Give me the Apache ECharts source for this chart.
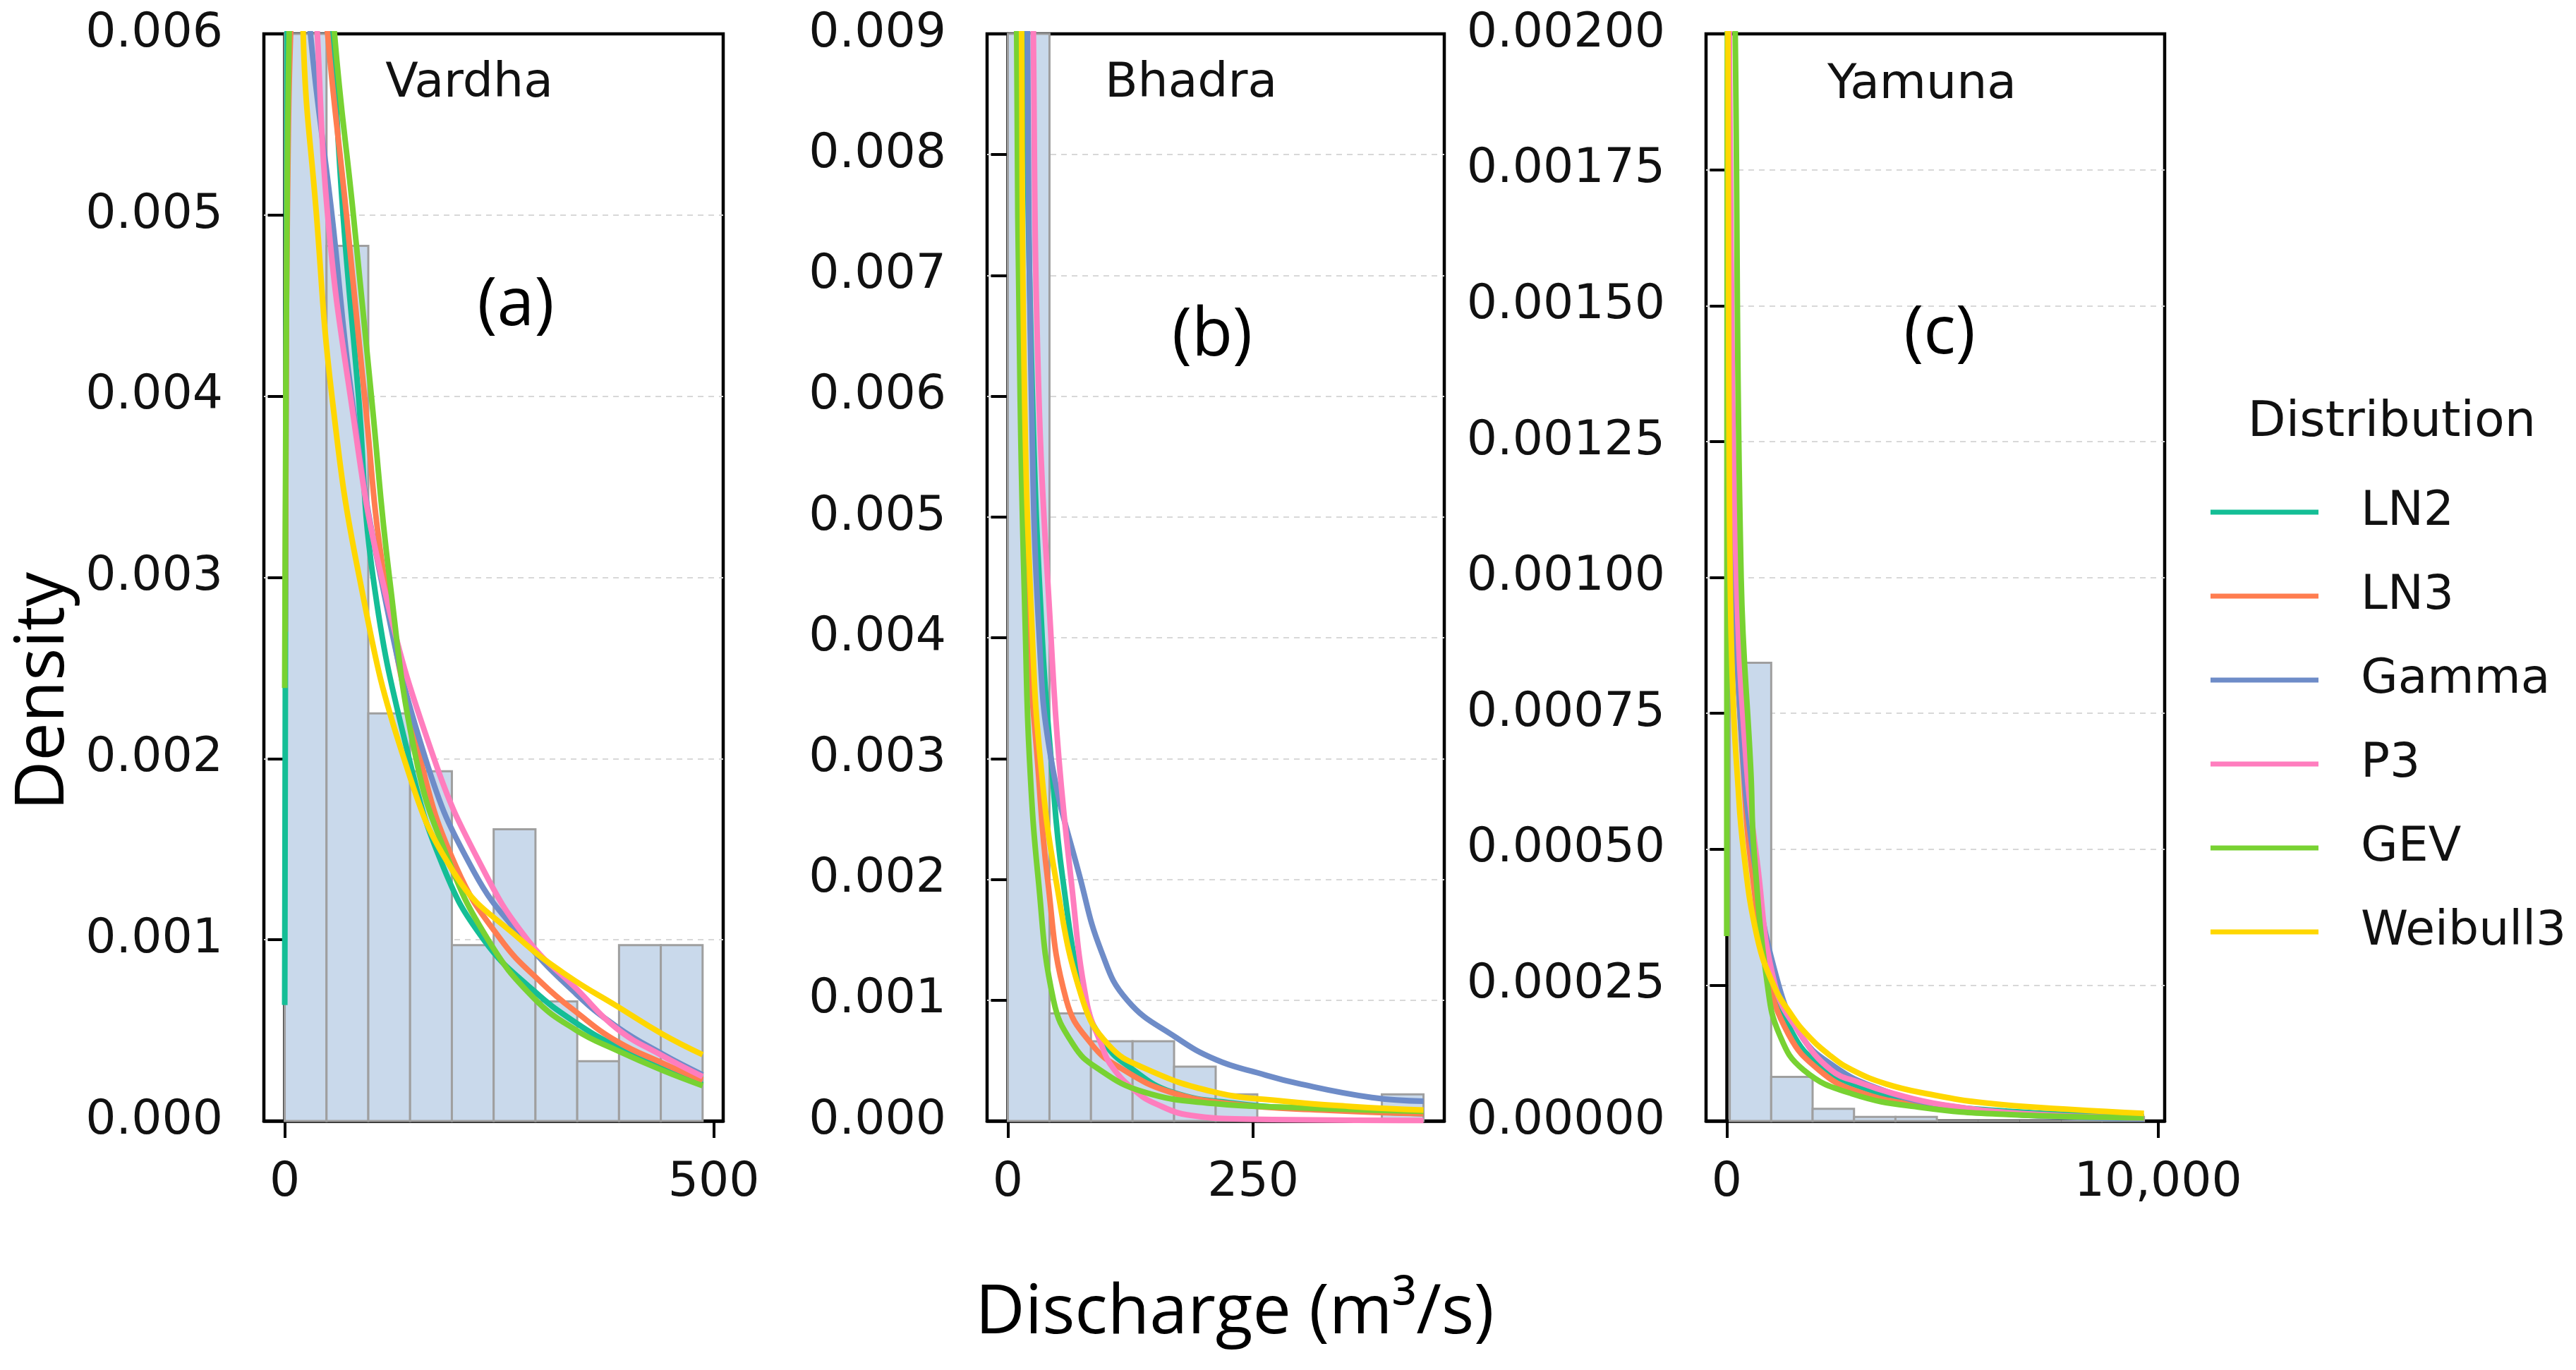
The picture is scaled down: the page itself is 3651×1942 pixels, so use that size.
<!DOCTYPE html>
<html>
<head>
<meta charset="utf-8">
<script src="https://cdn.jsdelivr.net/npm/echarts@6/dist/echarts.min.js"></script>
<style>html,body{margin:0;padding:0;background:#fff}#c{width:3651px;height:1942px}</style>
</head>
<body>
<div id="c"></div>
<script>
// ---------- labels ----------
const distNames = ['LN2', 'LN3', 'Gamma', 'P3', 'GEV', 'Weibull3'];
const riverNames = ['Vardha', 'Bhadra', 'Yamuna'];
const panelTags = ['(a)', '(b)', '(c)'];
const xTickValues = [[0, 500], [0, 250], [0, 10000]];
const yMaxValues = [0.006, 0.009, 0.002];
const yStepValues = [0.001, 0.001, 0.00025];
const yDecimals = [3, 3, 5];

// ---------- histograms (bin edges, density) ----------
const vardhaEdges = [0, 48.7, 97.4, 146.1, 194.8, 243.5, 292.2, 340.9, 389.6, 438.3, 487];
const vardhaDensity = [0.00612, 0.00483, 0.00225, 0.00193, 0.00097, 0.00161, 0.00066, 0.00033, 0.00097, 0.00097];
const bhadraEdges = [0, 42.4, 84.7, 127.1, 169.4, 211.8, 254.2, 296.5, 338.9, 381.2, 423.6];
const bhadraDensity = [0.0205, 0.00089, 0.00066, 0.00066, 0.00045, 0.00022, 0, 0, 0, 0.00022];
const yamunaEdges = [70, 1030, 1990, 2950, 3910, 4870, 5830, 6790, 7750, 8710, 9670];
const yamunaDensity = [0.000843, 0.0000811, 0.0000225, 0.0000074, 0.0000074, 0, 0, 0, 0, 0.0000074];

// ---------- fitted curves: [discharge, density] ----------
const vardhaLN2 = [[0,0.00064],[1,0.0030],[2.5,0.0055],[5,0.0070],[12,0.0078],[25,0.0077],[40,0.0070],[55,0.0060],[68,0.0050],[86,0.0040],[103,0.0030],[145,0.0020],[185,0.0014],[232,0.0010],[290,0.00072],[340,0.00054],[387,0.00041],[440,0.00029],[487,0.00020]];
const vardhaLN3 = [[0.5,0.0027],[3,0.0050],[9,0.0063],[20,0.0072],[35,0.0070],[50,0.0060],[72,0.0050],[93,0.0040],[116,0.0030],[158,0.0020],[200,0.0014],[252,0.0010],[300,0.00076],[340,0.00060],[387,0.00044],[440,0.00032],[487,0.000225]];
const vardhaGamma = [[5,0.0095],[10,0.0078],[20,0.0068],[30,0.0060],[55,0.0050],[78,0.0040],[112,0.0030],[164,0.0020],[220,0.00138],[279,0.0010],[340,0.00070],[387,0.00052],[440,0.00037],[487,0.000255]];
const vardhaP3 = [[10,0.0090],[25,0.0072],[38,0.0060],[50,0.0050],[76.5,0.0040],[113,0.0030],[174,0.0020],[230,0.0014],[283,0.0010],[340,0.00073],[387,0.00051],[440,0.00036],[487,0.000245]];
const vardhaGEV = [[0,0.00239],[2,0.0045],[6,0.0062],[15,0.0073],[30,0.0076],[45,0.0070],[58,0.0060],[80,0.0050],[101,0.0040],[122,0.0030],[153,0.0020],[190,0.00145],[237,0.0010],[290,0.00068],[340,0.00050],[387,0.00039],[440,0.00028],[487,0.000195]];
const vardhaW3 = [[10,0.0095],[21.5,0.0060],[37,0.0050],[55,0.0040],[87,0.0030],[139,0.0020],[200,0.00135],[275,0.0010],[330,0.00080],[387,0.000634],[440,0.00048],[487,0.000366]];

const bhadraLN2 = [[6,0.020],[13,0.012],[18,0.009],[25,0.006],[35,0.004],[44,0.003],[56,0.002],[78,0.001],[100,0.00063],[125,0.00044],[167,0.00024],[234,0.000144],[296,0.000105],[423.6,0.00006]];
const bhadraLN3 = [[5,0.020],[10,0.009],[14,0.006],[21,0.004],[30,0.003],[40.5,0.002],[59.6,0.001],[85.9,0.00063],[114.5,0.00044],[165,0.00024],[230,0.00014],[320,0.00009],[423.6,0.00006]];
const bhadraGamma = [[12,0.020],[20,0.009],[24,0.006],[32,0.004],[44,0.003],[74,0.002],[95,0.00141],[121.7,0.001],[171.7,0.00069],[212.8,0.000505],[254,0.0004],[296,0.00031],[371,0.000194],[423.6,0.000164]];
const bhadraP3 = [[15,0.020],[26,0.009],[31.6,0.006],[44,0.004],[52,0.003],[64.4,0.002],[80,0.001],[95.4,0.00063],[107,0.00044],[131.2,0.00024],[150.3,0.000144],[186,0.000047],[250,0.000015],[423.6,0.000005]];
const bhadraGEV = [[4,0.020],[9,0.009],[12.5,0.006],[18,0.004],[22,0.003],[31,0.002],[46.5,0.001],[66.8,0.00063],[90.6,0.00044],[138.4,0.00024],[210,0.000144],[296,0.00011],[423.6,0.00008]];
const bhadraW3 = [[8,0.020],[14,0.009],[17,0.006],[25,0.004],[33,0.003],[48.9,0.002],[76.3,0.001],[102.6,0.00063],[138.4,0.00044],[210,0.00024],[281.5,0.000164],[350,0.00012],[423.6,0.00009]];

const yamunaLN2 = [[5,0.0030],[25,0.0024],[80,0.0016],[180,0.0010],[420,0.00062],[650,0.00045],[1000,0.00028],[1500,0.000165],[2200,0.0001],[3200,0.00006],[4500,0.000035],[6500,0.000018],[9670,0.000008]];
const yamunaLN3 = [[8,0.0030],[30,0.0023],[80,0.0016],[180,0.0010],[420,0.0006],[600,0.00045],[944,0.00027],[1435,0.000159],[2134,0.000094],[3000,0.000055],[4500,0.000028],[6500,0.000013],[9670,0.000005]];
const yamunaGamma = [[5,0.0030],[20,0.0025],[60,0.0017],[150,0.0011],[350,0.0007],[650,0.00047],[1100,0.00028],[1700,0.00016],[2500,0.0001],[3500,0.00006],[4855,0.00003],[6500,0.000013],[9670,0.000004]];
const yamunaP3 = [[10,0.0030],[40,0.0023],[100,0.0016],[224,0.0010],[450,0.00066],[700,0.00048],[1120,0.00025],[1713,0.000159],[2414,0.000094],[3100,0.00007],[3882,0.00005],[5000,0.00003],[7000,0.000013],[9670,0.000006]];
const yamunaGEV = [[0,0.00034],[3,0.0008],[8,0.0015],[20,0.0022],[60,0.0026],[120,0.0024],[196,0.0020],[333,0.0010],[560,0.00064],[630,0.0005],[944,0.00025],[1222,0.000159],[1779,0.000094],[2903,0.00005],[4500,0.000025],[6500,0.000012],[9670,0.000006]];
const yamunaW3 = [[20,0.0024],[40,0.0016],[60,0.00115],[100,0.0009],[160,0.00075],[245,0.000636],[385,0.0005],[700,0.00034],[1085,0.00025],[1500,0.000195],[1859,0.000159],[2400,0.00012],[2903,0.000094],[3700,0.000068],[4651,0.00005],[6000,0.000033],[8000,0.000021],[9670,0.000014]];

// ---------- styling ----------
const distColors = ['#14be96', '#ff7d50', '#6e8cc8', '#ff7dbe', '#78d232', '#ffd700'];
const gridBoxes = [
  {left: 374, top: 48, width: 651, height: 1541},
  {left: 1399, top: 48, width: 648, height: 1541},
  {left: 2418, top: 48, width: 650, height: 1541}
];
const xRanges = [[-24.3, 511], [-21.2, 444.8], [-480, 10150]];

const panels = [
  {edges: vardhaEdges, dens: vardhaDensity, curves: [vardhaLN2, vardhaLN3, vardhaGamma, vardhaP3, vardhaGEV, vardhaW3]},
  {edges: bhadraEdges, dens: bhadraDensity, curves: [bhadraLN2, bhadraLN3, bhadraGamma, bhadraP3, bhadraGEV, bhadraW3]},
  {edges: yamunaEdges, dens: yamunaDensity, curves: [yamunaLN2, yamunaLN3, yamunaGamma, yamunaP3, yamunaGEV, yamunaW3]}
];

const tickFont = {fontFamily: 'DejaVu Sans', fontSize: 68, color: '#111'};

const grids = gridBoxes.map(g => Object.assign({
  show: true, borderColor: '#000', borderWidth: 4.5, backgroundColor: 'transparent',
  containLabel: false, outerBoundsMode: 'none'
}, g));

const xAxes = panels.map((p, i) => ({
  type: 'value', gridIndex: i, min: xRanges[i][0], max: xRanges[i][1],
  axisLine: {show: true, onZero: false, lineStyle: {color: '#000', width: 4.5}},
  axisTick: {show: true, length: 24, lineStyle: {color: '#000', width: 4}, customValues: xTickValues[i]},
  axisLabel: Object.assign({margin: 54, customValues: xTickValues[i],
    formatter: v => Math.round(v).toLocaleString('en-US')}, tickFont),
  splitLine: {show: false}
}));

const yAxes = panels.map((p, i) => ({
  type: 'value', gridIndex: i, min: 0, max: yMaxValues[i], interval: yStepValues[i],
  axisLine: {show: true, lineStyle: {color: '#000', width: 4.5}},
  axisTick: {show: true, length: 24, lineStyle: {color: '#000', width: 4}},
  axisLabel: Object.assign({margin: 58, formatter: v => v.toFixed(yDecimals[i])}, tickFont),
  splitLine: {show: true, showMinLine: false, showMaxLine: false,
    lineStyle: {color: '#d8d8d8', width: 2, type: [8, 7]}}
}));

const series = [];
panels.forEach((p, i) => {
  const binData = p.dens.map((d, k) => [p.edges[k], p.edges[k + 1], d]);
  series.push({
    type: 'custom', xAxisIndex: i, yAxisIndex: i, data: binData, z: 1, silent: true,
    encode: {x: [0, 1], y: 2},
    renderItem: function (params, api) {
      const a = api.coord([api.value(0), 0]);
      const b = api.coord([api.value(1), api.value(2)]);
      const cs = params.coordSys;
      const shape = echarts.graphic.clipRectByRect(
        {x: a[0], y: b[1], width: b[0] - a[0], height: a[1] - b[1]},
        {x: cs.x, y: cs.y, width: cs.width, height: cs.height});
      if (!shape) return;
      return {type: 'rect', shape: shape,
        style: {fill: '#c9d9eb', stroke: '#9f9f9f', lineWidth: 3}};
    }
  });
  p.curves.forEach((c, k) => {
    series.push({
      type: 'line', name: distNames[k], xAxisIndex: i, yAxisIndex: i, data: c,
      symbol: 'none', showSymbol: false, smooth: 0.45, clip: true,
      lineStyle: {color: distColors[k], width: 8}, itemStyle: {color: distColors[k]},
      z: 3 + k, silent: true
    });
  });
});

const graphics = [];
const titlePos = [[665, 119], [1688, 119], [2724, 121]];
const tagPos = [[731, 434], [1718, 477], [2749, 474]];
riverNames.forEach((n, i) => {
  graphics.push({type: 'text', x: titlePos[i][0], y: titlePos[i][1], z: 50,
    style: {text: n, fontFamily: 'DejaVu Sans', fontSize: 68, fill: '#111', align: 'center', verticalAlign: 'middle'}});
  graphics.push({type: 'text', x: tagPos[i][0], y: tagPos[i][1], z: 50,
    style: {text: panelTags[i], fontFamily: 'Open Sans', fontSize: 95, fill: '#000', align: 'center', verticalAlign: 'middle'}});
});
graphics.push({type: 'text', x: 62, y: 980, rotation: Math.PI / 2, z: 50,
  style: {text: 'Density', fontFamily: 'Open Sans', fontSize: 97, fill: '#000', align: 'center', verticalAlign: 'middle'}});
graphics.push({type: 'text', x: 1750, y: 1862, z: 50,
  style: {text: 'Discharge (m³/s)', fontFamily: 'Open Sans', fontSize: 97, fill: '#000', align: 'center', verticalAlign: 'middle'}});
graphics.push({type: 'text', x: 3390, y: 600, z: 50,
  style: {text: 'Distribution', fontFamily: 'DejaVu Sans', fontSize: 70, fill: '#111', align: 'center', verticalAlign: 'middle'}});

const chart = echarts.init(document.getElementById('c'), null, {renderer: 'canvas'});
chart.setOption({
  animation: false,
  backgroundColor: '#fff',
  grid: grids,
  xAxis: xAxes,
  yAxis: yAxes,
  legend: {
    data: distNames, orient: 'vertical', left: 3128, top: 681,
    itemWidth: 153, itemHeight: 7, itemGap: 39, icon: 'rect', selectedMode: false,
    textStyle: {fontFamily: 'DejaVu Sans', fontSize: 68, color: '#111', lineHeight: 80, padding: [0, 0, 0, 55]}
  },
  graphic: graphics,
  series: series
});
</script>
</body>
</html>
